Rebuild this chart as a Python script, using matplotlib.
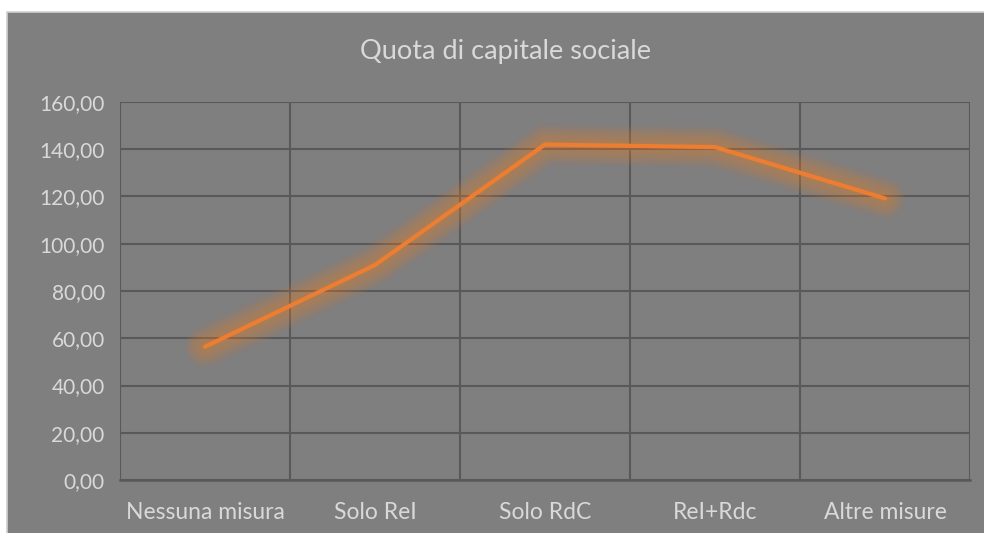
import matplotlib
matplotlib.use("Agg")
import matplotlib.pyplot as plt
import matplotlib.patches as patches
import numpy as np

## Data
categories = ["Nessuna misura", "Solo ReI", "Solo RdC", "ReI+Rdc", "Altre misure"]
values = [56.4, 91.0, 142.0, 140.9, 119.2]
y_ticks = [0, 20, 40, 60, 80, 100, 120, 140, 160]

## Colours
bg = "#7f7f7f"
grid = "#595959"
text_col = "#d9d9d9"
orange = "#ed7d31"

plt.rcParams['font.family'] = ['Lato', 'DejaVu Sans']

fig = plt.figure(figsize=(9.84, 5.33), dpi=100)
fig.patch.set_facecolor("white")

# Grey chart background with a thin light border (top/left)
W, H = 984.0, 533.0
fig.patches.append(patches.Rectangle((7 / W, -0.01), 1.0, 1 - 12 / H + 0.01,
                                     transform=fig.transFigure, facecolor=bg,
                                     edgecolor="#d0d0d0", linewidth=1.2, zorder=-10))

ax = fig.add_axes([120 / W, 53 / H, 850 / W, 378 / H])
ax.patch.set_alpha(0)

x = np.arange(len(categories))

# Soft glow around the line
for lw in np.linspace(30, 5, 16):
    ax.plot(x, values, color=orange, linewidth=lw, alpha=0.035,
            solid_capstyle="round", solid_joinstyle="round", zorder=3)
ax.plot(x, values, color=orange, linewidth=3, solid_capstyle="round",
        solid_joinstyle="round", zorder=4)

ax.set_xlim(-0.5, len(categories) - 0.5)
ax.set_ylim(0, 160)
ax.set_yticks(y_ticks)
ax.set_yticklabels([("%.2f" % v).replace(".", ",") for v in y_ticks])
ax.set_xticks(x)
ax.set_xticklabels(categories)
ax.set_xticks(np.arange(-0.5, len(categories), 1.0), minor=True)

ax.grid(True, which="major", axis="y", color=grid, linewidth=1.5, zorder=1)
ax.grid(True, which="minor", axis="x", color=grid, linewidth=1.5, zorder=1)
ax.set_axisbelow(True)

for s in ["top", "right", "left"]:
    ax.spines[s].set_visible(False)
ax.spines["bottom"].set_color(grid)
ax.spines["bottom"].set_linewidth(1.8)

ax.tick_params(which="both", length=0)
ax.tick_params(axis="y", pad=11, labelsize=15, labelcolor=text_col)
ax.tick_params(axis="x", pad=16, labelsize=16.5, labelcolor=text_col)

fig.text(505 / W, 1 - 52 / H, "Quota di capitale sociale", ha="center",
         va="center", fontsize=19.5, color=text_col)

fig.savefig("out.png", dpi=100, facecolor=fig.get_facecolor())
